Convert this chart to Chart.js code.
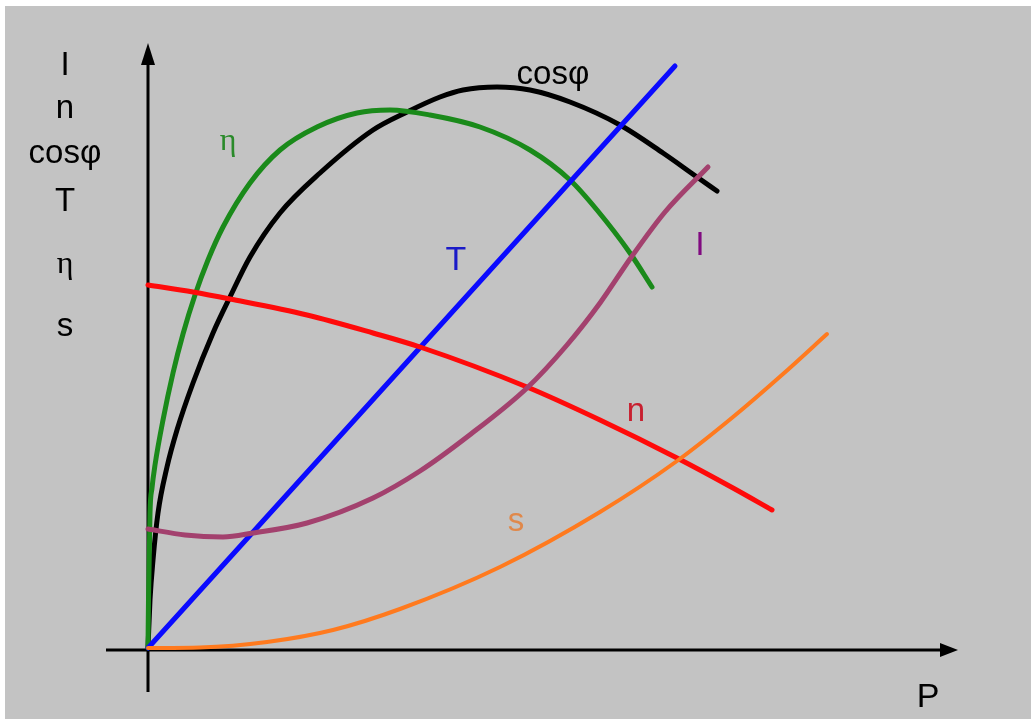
<!DOCTYPE html>
<html>
<head>
<meta charset="utf-8">
<script src="https://cdn.jsdelivr.net/npm/chart.js@4.4.1/dist/chart.umd.min.js"></script>
<style>
  html, body { margin: 0; padding: 0; background: #ffffff; }
  #wrap { width: 1033px; height: 719px; position: relative; }
</style>
</head>
<body>
<div id="wrap"><canvas id="chart" width="1033" height="719"></canvas></div>
<script>
// Curve data (P on x, quantity on y; arbitrary units)
const tX = [0, 52.7];
const tY = [0.2, 58.4];

const etaX = [0, 0.05, 0.2, 0.4, 0.7, 1.5, 2.5, 3.5, 4.7, 6.0, 7.5, 10.2, 13.2, 16.9, 20.9, 24.2, 28.2, 33.2, 38.2, 42.2, 44.9, 48.2, 50.4];
const etaY = [0.2, 5, 13.7, 16.2, 18.5, 23, 27.7, 31.6, 35.5, 39, 42.3, 46.7, 50, 52.3, 53.7, 54, 53.5, 52.3, 50, 47, 44, 39.7, 36.3];

const cosX = [0, 0.2, 0.5, 1, 1.9, 2.9, 4.5, 6.5, 8.2, 10.2, 13.2, 17.2, 22.5, 25.9, 29.2, 31.5, 34.9, 38.2, 42.2, 47.2, 51.5, 54.9, 56.9];
const cosY = [0.2, 5, 9, 13.7, 18.3, 22, 26.7, 31.7, 35.3, 39.3, 43.7, 47.7, 52, 53.8, 55.3, 56, 56.3, 56, 54.8, 52.5, 49.7, 47.3, 45.9];

const nX = [0, 4.5, 8.2, 15.9, 22.5, 27.2, 37.9, 45.2, 52.9, 58.5, 62.4];
const nY = [36.5, 35.8, 35.1, 33.5, 31.7, 30.3, 26.3, 23.0, 19.2, 16.2, 14.0];

const iX = [0, 3.7, 7.5, 10.5, 15.9, 22.5, 27.2, 31.9, 37.9, 41.9, 45.2, 48.2, 51.7, 56];
const iY = [12.1, 11.5, 11.3, 11.7, 12.7, 15.2, 17.9, 21.3, 26.2, 30.5, 34.7, 39.1, 43.8, 48.3];

const sX = [0, 5.2, 11.9, 18.5, 25.2, 35.2, 45.2, 52.9, 58.5, 63.5, 67.9];
const sY = [0.2, 0.25, 0.8, 2.0, 4.1, 8.3, 13.8, 18.9, 23.3, 27.6, 31.6];

const axisLabels = ['I', 'n', 'cosφ', 'T', 'η', 's'];

function pts(xs, ys) {
  return xs.map((x, i) => ({ x: x, y: ys[i] }));
}

function curve(label, xs, ys, color, width) {
  return {
    label: label,
    data: pts(xs, ys),
    borderColor: color,
    borderWidth: width,
    pointRadius: 0,
    cubicInterpolationMode: 'monotone',
    fill: false,
    borderCapStyle: 'round',
    borderJoinStyle: 'round',
  };
}

// gray panel behind everything
const panelPlugin = {
  id: 'panel',
  beforeDraw(chart) {
    const c = chart.ctx;
    c.save();
    c.fillStyle = '#ffffff';
    c.fillRect(0, 0, chart.width, chart.height);
    c.fillStyle = '#c3c3c3';
    c.fillRect(5, 6, 1026, 713);
    c.restore();
  }
};

function arrowHead(c, x, y, dx, dy, len, half) {
  // dx,dy: unit direction
  c.beginPath();
  c.moveTo(x, y);
  c.lineTo(x - dx * len - dy * half, y - dy * len + dx * half);
  c.lineTo(x - dx * len + dy * half, y - dy * len - dx * half);
  c.closePath();
  c.fill();
}

// axis lines with arrows
const axesPlugin = {
  id: 'arrowAxes',
  beforeDatasetsDraw(chart) {
    const c = chart.ctx;
    const xs = chart.scales.x, ys = chart.scales.y;
    const ox = xs.getPixelForValue(0), oy = ys.getPixelForValue(0);
    const xEnd = xs.getPixelForValue(81), xStart = xs.getPixelForValue(-4.2);
    const yTop = ys.getPixelForValue(60.7), yBot = ys.getPixelForValue(-4.2);
    c.save();
    c.strokeStyle = '#000000';
    c.fillStyle = '#000000';
    c.lineWidth = 3;
    c.beginPath();
    c.moveTo(xStart, oy); c.lineTo(xEnd - 10, oy);
    c.moveTo(ox, yBot); c.lineTo(ox, yTop + 12);
    c.stroke();
    arrowHead(c, xEnd, oy, 1, 0, 18, 7);
    arrowHead(c, ox, yTop, 0, -1, 22, 7);
    c.restore();
  }
};

// text labels
const labelPlugin = {
  id: 'labels',
  afterDatasetsDraw(chart) {
    const c = chart.ctx;
    const xs = chart.scales.x, ys = chart.scales.y;
    const put = (txt, x, y, color, font) => {
      c.fillStyle = color;
      c.font = font;
      c.fillText(txt, xs.getPixelForValue(x), ys.getPixelForValue(y));
    };
    const sans = '33px "Liberation Sans", Arial, sans-serif';
    const serif = '32px "Liberation Serif", "Times New Roman", serif';
    c.save();
    c.textAlign = 'center';
    c.textBaseline = 'middle';
    // y-axis stack
    const stackY = [58.4, 54.1, 49.6, 44.8, 38.5, 32.3];
    axisLabels.forEach((t, i) => {
      put(t, -8.3, stackY[i], '#000000', t === 'η' ? serif : sans);
    });
    // curve labels
    put('η', 8.0, 50.8, '#2a8a2a', serif);
    put('cosφ', 40.5, 57.5, '#000000', sans);
    put('T', 30.8, 38.9, '#1a1ac8', '34px "Liberation Sans", Arial, sans-serif');
    put('I', 55.2, 40.4, '#800a80', '34px "Liberation Sans", Arial, sans-serif');
    put('n', 48.8, 23.8, '#c82030', sans);
    put('s', 36.8, 12.8, '#e0884a', sans);
    put('P', 78.0, -4.8, '#000000', '34px "Liberation Sans", Arial, sans-serif');
    c.restore();
  }
};

new Chart(document.getElementById('chart'), {
  type: 'line',
  data: {
    datasets: [
      curve('s', sX, sY, '#ff7a1e', 4),
      curve('I', iX, iY, '#a3416e', 5),
      curve('n', nX, nY, '#ff0a0a', 5),
      curve('T', tX, tY, '#0a0aff', 5),
      curve('η', etaX, etaY, '#1a8a1a', 5),
      curve('cosφ', cosX, cosY, '#000000', 5),
    ]
  },
  options: {
    responsive: false,
    animation: false,
    devicePixelRatio: 1,
    layout: { padding: 0 },
    plugins: { legend: { display: false }, tooltip: { enabled: false } },
    scales: {
      x: { type: 'linear', min: -14.8, max: 88.5, display: false },
      y: { type: 'linear', min: -6.9, max: 65, display: false }
    }
  },
  plugins: [panelPlugin, axesPlugin, labelPlugin]
});
</script>
</body>
</html>
